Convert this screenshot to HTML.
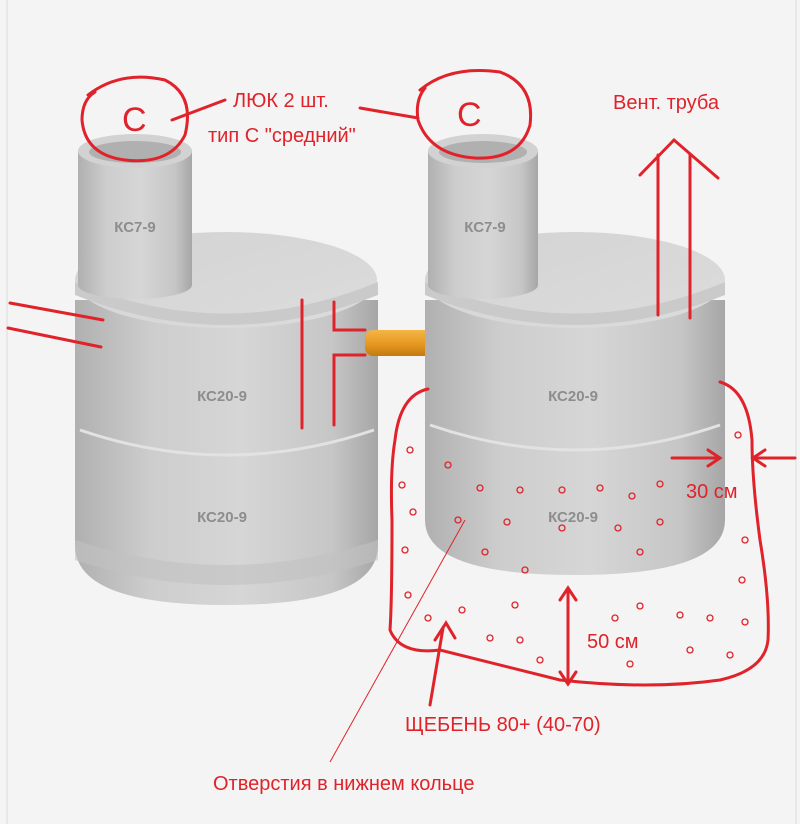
<!DOCTYPE html>
<html><head><meta charset="utf-8"><style>
html,body{margin:0;padding:0;background:#f4f4f4;}
svg{display:block}
text{font-family:"Liberation Sans",sans-serif}
</style></head><body>
<svg width="800" height="824" viewBox="0 0 800 824" xmlns="http://www.w3.org/2000/svg">
<defs>
<linearGradient id="cyl" x1="0" x2="1" y1="0" y2="0">
<stop offset="0" stop-color="#b0b0b0"/><stop offset="0.25" stop-color="#cdcdcd"/><stop offset="0.55" stop-color="#d6d6d6"/><stop offset="0.85" stop-color="#c6c6c6"/><stop offset="1" stop-color="#a6a6a6"/>
</linearGradient>
<linearGradient id="top" x1="0" x2="1" y1="0" y2="1">
<stop offset="0" stop-color="#d3d3d3"/><stop offset="1" stop-color="#dcdcdc"/>
</linearGradient>
<linearGradient id="pipe" x1="0" x2="0" y1="0" y2="1">
<stop offset="0" stop-color="#f5b648"/><stop offset="0.5" stop-color="#e79a22"/><stop offset="1" stop-color="#c57a10"/>
</linearGradient>
</defs>
<rect width="800" height="824" fill="#f4f4f4"/>
<line x1="7" y1="0" x2="7" y2="824" stroke="#dcdcdc"/>
<line x1="796" y1="0" x2="796" y2="824" stroke="#dcdcdc"/>

<!-- LEFT -->
<g>
<path d="M75 545 L75 300 L378 300 L378 545 Q378 605 226 605 Q75 605 75 545Z" fill="url(#cyl)"/>
<path d="M75 540 Q226 590 378 540 L378 560 Q226 610 75 560Z" fill="#c2c2c2" opacity="0.6"/>
<path d="M80 430 Q226 480 374 430" fill="none" stroke="#e2e2e2" stroke-width="3"/>
<ellipse cx="226" cy="280" rx="151" ry="48" fill="url(#top)"/>
<path d="M75 282 Q226 345 378 282 L378 295 Q226 355 75 295Z" fill="#cacaca"/>
<rect x="78" y="150" width="114" height="135" fill="url(#cyl)"/>
<ellipse cx="135" cy="285" rx="57" ry="14" fill="url(#cyl)"/>
<ellipse cx="135" cy="151" rx="57" ry="17" fill="#d2d2d2"/>
<ellipse cx="135" cy="152" rx="46" ry="11" fill="#b0b0b0"/>
<text x="135" y="232" text-anchor="middle" font-size="15" font-weight="bold" fill="#8d8d8d">КС7-9</text>
<text x="222" y="401" text-anchor="middle" font-size="15" font-weight="bold" fill="#8d8d8d">КС20-9</text>
<text x="222" y="522" text-anchor="middle" font-size="15" font-weight="bold" fill="#8d8d8d">КС20-9</text>
</g>

<rect x="365" y="330" width="70" height="26" rx="8" fill="url(#pipe)"/>

<!-- RIGHT -->
<g>
<path d="M425 520 L425 300 L725 300 L725 520 Q725 575 575 575 Q425 575 425 520Z" fill="url(#cyl)"/>
<path d="M430 425 Q575 475 720 425" fill="none" stroke="#e2e2e2" stroke-width="3"/>
<ellipse cx="575" cy="280" rx="150" ry="48" fill="url(#top)"/>
<path d="M425 282 Q575 345 725 282 L725 295 Q575 355 425 295Z" fill="#cacaca"/>
<rect x="428" y="150" width="110" height="135" fill="url(#cyl)"/>
<ellipse cx="483" cy="285" rx="55" ry="14" fill="url(#cyl)"/>
<ellipse cx="483" cy="151" rx="55" ry="17" fill="#d2d2d2"/>
<ellipse cx="483" cy="152" rx="44" ry="11" fill="#b0b0b0"/>
<text x="485" y="232" text-anchor="middle" font-size="15" font-weight="bold" fill="#8d8d8d">КС7-9</text>
<text x="573" y="401" text-anchor="middle" font-size="15" font-weight="bold" fill="#8d8d8d">КС20-9</text>
<text x="573" y="522" text-anchor="middle" font-size="15" font-weight="bold" fill="#8d8d8d">КС20-9</text>
</g>

<g stroke="#e0222a" stroke-width="3" fill="none" stroke-linecap="round">
<path d="M88 95 Q120 70 165 80 Q195 95 185 135 Q170 165 125 160 Q85 155 82 120 Q82 100 95 92"/>
<path d="M420 90 Q450 65 500 72 Q535 85 530 125 Q520 160 475 158 Q430 155 418 120 Q415 100 425 88"/>
<path d="M172 120 L225 100"/>
<path d="M360 108 L418 118"/>
<path d="M10 303 L103 320"/><path d="M8 328 L101 347"/>
<path d="M302 300 L302 428"/>
<path d="M334 302 L334 330 L365 330"/><path d="M334 425 L334 355 L365 355"/>
<path d="M658 315 L658 155"/><path d="M690 318 L690 155"/>
<path d="M640 175 L674 140 L718 178"/>
<path d="M428 389 Q400 395 395 440 Q390 470 392 520 Q392 600 390 630 Q400 655 440 650 Q480 660 560 680 Q650 690 720 680 Q765 670 768 640 Q770 600 760 540 Q752 480 752 440 Q748 390 720 382"/>
<path d="M672 458 L718 458"/><path d="M708 450 L720 458 L708 466"/>
<path d="M795 458 L755 458"/><path d="M765 450 L753 458 L765 466"/>
<path d="M568 590 L568 682"/><path d="M560 600 L568 588 L576 600"/><path d="M560 672 L568 684 L576 672"/>
<path d="M443 628 L430 705"/><path d="M435 640 L446 623 L455 638"/>
</g>
<path d="M330 762 L465 520" stroke="#e0222a" stroke-width="1"/>
<g fill="none" stroke="#e0222a" stroke-width="1.3">
<circle cx="448" cy="465" r="3"/><circle cx="480" cy="488" r="3"/><circle cx="520" cy="490" r="3"/><circle cx="562" cy="490" r="3"/><circle cx="600" cy="488" r="3"/><circle cx="632" cy="496" r="3"/><circle cx="660" cy="484" r="3"/><circle cx="507" cy="522" r="3"/><circle cx="562" cy="528" r="3"/><circle cx="618" cy="528" r="3"/><circle cx="660" cy="522" r="3"/><circle cx="485" cy="552" r="3"/><circle cx="525" cy="570" r="3"/><circle cx="640" cy="552" r="3"/><circle cx="458" cy="520" r="3"/>
<circle cx="410" cy="450" r="3"/><circle cx="402" cy="485" r="3"/><circle cx="413" cy="512" r="3"/><circle cx="405" cy="550" r="3"/><circle cx="408" cy="595" r="3"/><circle cx="428" cy="618" r="3"/><circle cx="462" cy="610" r="3"/><circle cx="490" cy="638" r="3"/><circle cx="520" cy="640" r="3"/><circle cx="540" cy="660" r="3"/><circle cx="515" cy="605" r="3"/><circle cx="615" cy="618" r="3"/><circle cx="640" cy="606" r="3"/><circle cx="680" cy="615" r="3"/><circle cx="710" cy="618" r="3"/><circle cx="745" cy="622" r="3"/><circle cx="745" cy="540" r="3"/><circle cx="742" cy="580" r="3"/><circle cx="738" cy="435" r="3"/><circle cx="630" cy="664" r="3"/><circle cx="690" cy="650" r="3"/><circle cx="730" cy="655" r="3"/>
</g>
<g fill="#e0222a" font-size="20">
<text x="122" y="131" font-size="34">C</text>
<text x="457" y="126" font-size="34">C</text>
<text x="233" y="107">ЛЮК 2 шт.</text>
<text x="208" y="142">тип С "средний"</text>
<text x="613" y="109">Вент. труба</text>
<text x="686" y="498">30 см</text>
<text x="587" y="648">50 см</text>
<text x="405" y="731">ЩЕБЕНЬ 80+ (40-70)</text>
<text x="213" y="790">Отверстия в нижнем кольце</text>
</g>
</svg>
</body></html>
